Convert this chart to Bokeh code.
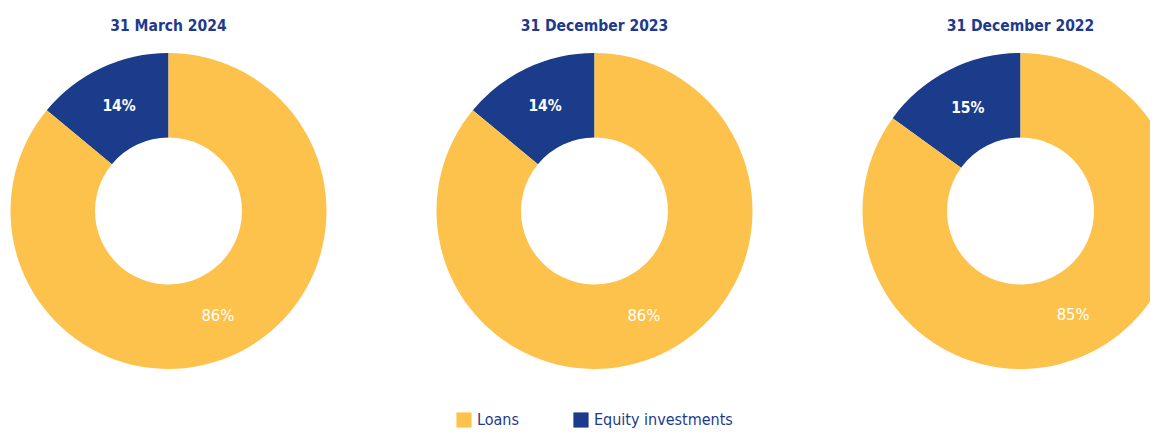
import math
from bokeh.plotting import figure
from bokeh.models import Range1d, ColumnDataSource, Legend, LegendItem
from bokeh.core.properties import value
from bokeh.embed import file_html
from bokeh.resources import INLINE

# ---- data ----
dates = ["31 March 2024", "31 December 2023", "31 December 2022"]
categories = ["Loans", "Equity investments"]
loans = [86, 86, 85]
equity = [14, 14, 15]

# ---- style / layout ----
colors = {"Loans": "#FDC24B", "Equity investments": "#1A3C8B"}
navy = "#1E3A8E"
FONT = "DejaVu Sans Condensed"
font = value(FONT)
W, H = 1150, 431
centers_x = [168, 594, 1020]
center_y = -210.5
title_y = -25
r_in, r_out = 73.5, 158
r_lab = 116

p = figure(width=W, height=H, output_backend="svg", toolbar_location=None,
           x_range=Range1d(0, W), y_range=Range1d(-H, 0),
           min_border=0, outline_line_color=None, match_aspect=False)
p.axis.visible = False
p.grid.visible = False
p.background_fill_color = "white"
p.border_fill_color = "white"

renderers = {}
label_rows = {"x": [], "y": [], "text": [], "style": [], "size": []}
for cat in ["Equity investments", "Loans"]:
    xs, ys, st, en = [], [], [], []
    for i in range(len(dates)):
        eq = equity[i] / 100.0
        if cat == "Equity investments":
            a0, a1 = math.pi / 2, math.pi / 2 + 2 * math.pi * eq
            pct = equity[i]
        else:
            a0, a1 = math.pi / 2 + 2 * math.pi * eq, math.pi / 2 + 2 * math.pi
            pct = loans[i]
        xs.append(centers_x[i]); ys.append(center_y); st.append(a0); en.append(a1)
        mid = (a0 + a1) / 2
        label_rows["x"].append(centers_x[i] + r_lab * math.cos(mid))
        label_rows["y"].append(center_y + r_lab * math.sin(mid))
        label_rows["text"].append(f"{pct}%")
        bold = cat == "Equity investments"
        label_rows["style"].append("bold" if bold else "normal")
        label_rows["size"].append("15.5px" if bold else "16.5px")
    src = ColumnDataSource(dict(x=xs, y=ys, start=st, end=en))
    renderers[cat] = p.annular_wedge(x="x", y="y", inner_radius=r_in, outer_radius=r_out,
                                     start_angle="start", end_angle="end", source=src,
                                     fill_color=colors[cat], line_color=None)

p.text(x="x", y="y", text="text", source=ColumnDataSource(label_rows),
       text_color="white", text_font=font, text_font_size="size",
       text_font_style="style", text_align="center", text_baseline="middle")

p.text(x=centers_x, y=[title_y] * 3, text=dates, text_color=navy, text_font=font,
       text_font_size="15.5px", text_font_style="bold", text_align="center",
       text_baseline="middle")

legend = Legend(items=[LegendItem(label=c, renderers=[renderers[c]]) for c in categories],
                orientation="horizontal", location=(454, 2), glyph_width=19, glyph_height=19,
                label_standoff=4, spacing=52, padding=0, margin=0,
                border_line_color=None, background_fill_alpha=0,
                label_text_font=FONT, label_text_font_size="16px",
                label_text_font_style="normal", label_text_color=navy)
p.add_layout(legend, "center")

open("out.html", "w").write(file_html(p, INLINE))
